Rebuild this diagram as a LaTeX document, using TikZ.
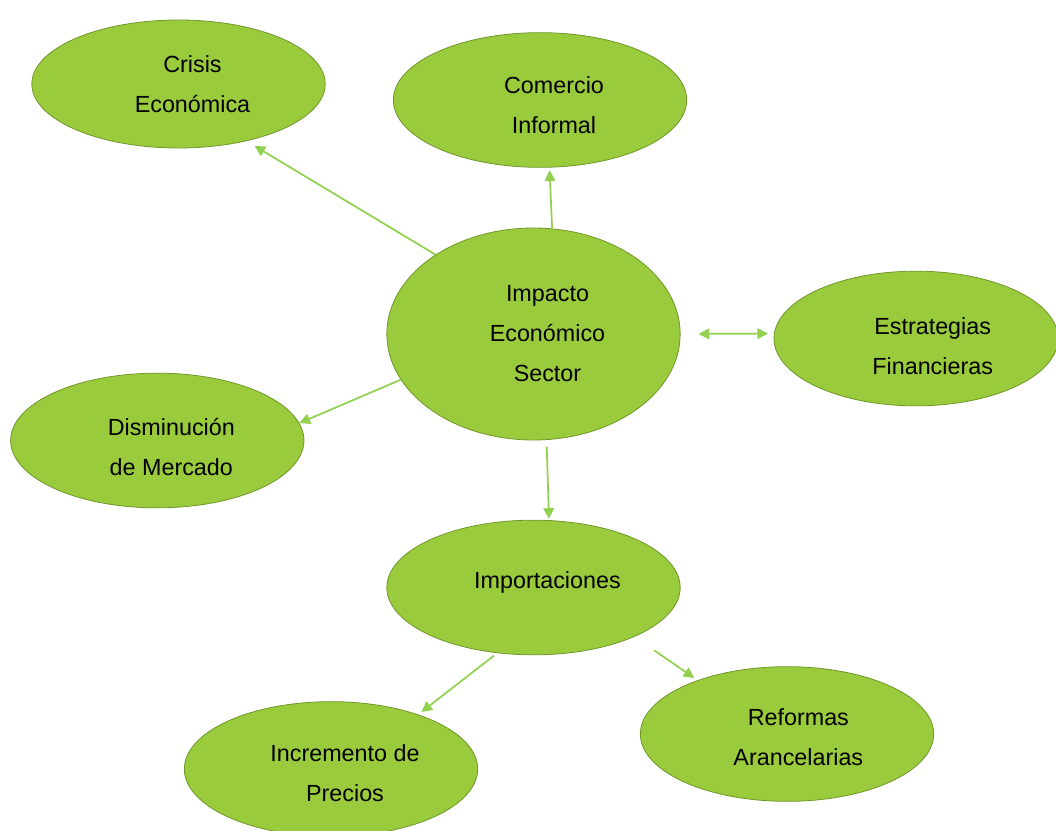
\documentclass[tikz,border=0pt]{standalone}
\usepackage{fontspec}
\setmainfont{Liberation Sans}
\usetikzlibrary{shapes.geometric,arrows.meta}

\definecolor{leaf}{RGB}{154,203,60}
\definecolor{leafedge}{RGB}{112,150,42}
\definecolor{link}{RGB}{146,208,80}

\begin{document}
\begin{tikzpicture}[x=0.75pt,y=-0.75pt,
    bubble/.style={ellipse, draw=leafedge, line width=0.6pt, fill=leaf, inner sep=0pt,
        minimum width=220pt, minimum height=101pt},
    txt/.style={align=center, xshift=10.5pt, font=\fontsize{17.5pt}{30pt}\selectfont},
    arr/.style={draw=link, line width=1.3pt, -{Triangle[length=8pt,width=8pt]}}]
    \useasboundingbox (0,0) rectangle (1056,831);
    \node[bubble, minimum height=96pt, label={[txt]center:{Crisis\\Económica}}] (crisis) at (178.5,84) {};
    \node[bubble, label={[txt,yshift=-3.75pt]center:{Comercio\\Informal}}] (com) at (540,100) {};
    \node[bubble, minimum height=159pt, label={[txt]center:{Impacto\\Económico\\Sector}}] (imp) at (533.5,334) {};
    \node[bubble, minimum width=213pt, label={[txt,yshift=-5.5pt,xshift=2pt]center:{Estrategias\\Financieras}}] (est) at (916,338.5) {};
    \node[bubble, label={[txt,yshift=-5.25pt]center:{Disminución\\de Mercado}}] (dism) at (157.3,440.5) {};
    \node[bubble, label={[txt,yshift=4pt]center:{Importaciones}}] (impo) at (533.5,587.5) {};
    \node[bubble, label={[txt,yshift=-3pt]center:{Incremento de\\Precios}}] (incr) at (331,769) {};
    \node[bubble, label={[txt,yshift=-2pt,xshift=-2pt]center:{Reformas\\Arancelarias}}] (ref) at (787,734) {};
    % conectores
    \draw[arr, shorten >=7pt] (imp.141) -- (crisis.-40);
    \draw[arr, shorten >=2pt] (imp.80) -- (com.-82);
    \draw[arr, {Triangle[length=8pt,width=8pt]}-{Triangle[length=8pt,width=8pt]}, shorten <=13.5pt, shorten >=4.5pt] (imp.0) -- (est.178);
    \draw[arr] (imp.-161) -- (dism.7.5);
    \draw[arr, shorten <=5pt, shorten >=1pt] (imp.-83) -- (impo.77);
    \draw[arr, shorten <=3pt, shorten >=3pt] (impo.-119) -- (incr.32);
    \draw[arr, shorten <=18pt, shorten >=3pt] (impo.-26) -- (ref.149);
\end{tikzpicture}
\end{document}
